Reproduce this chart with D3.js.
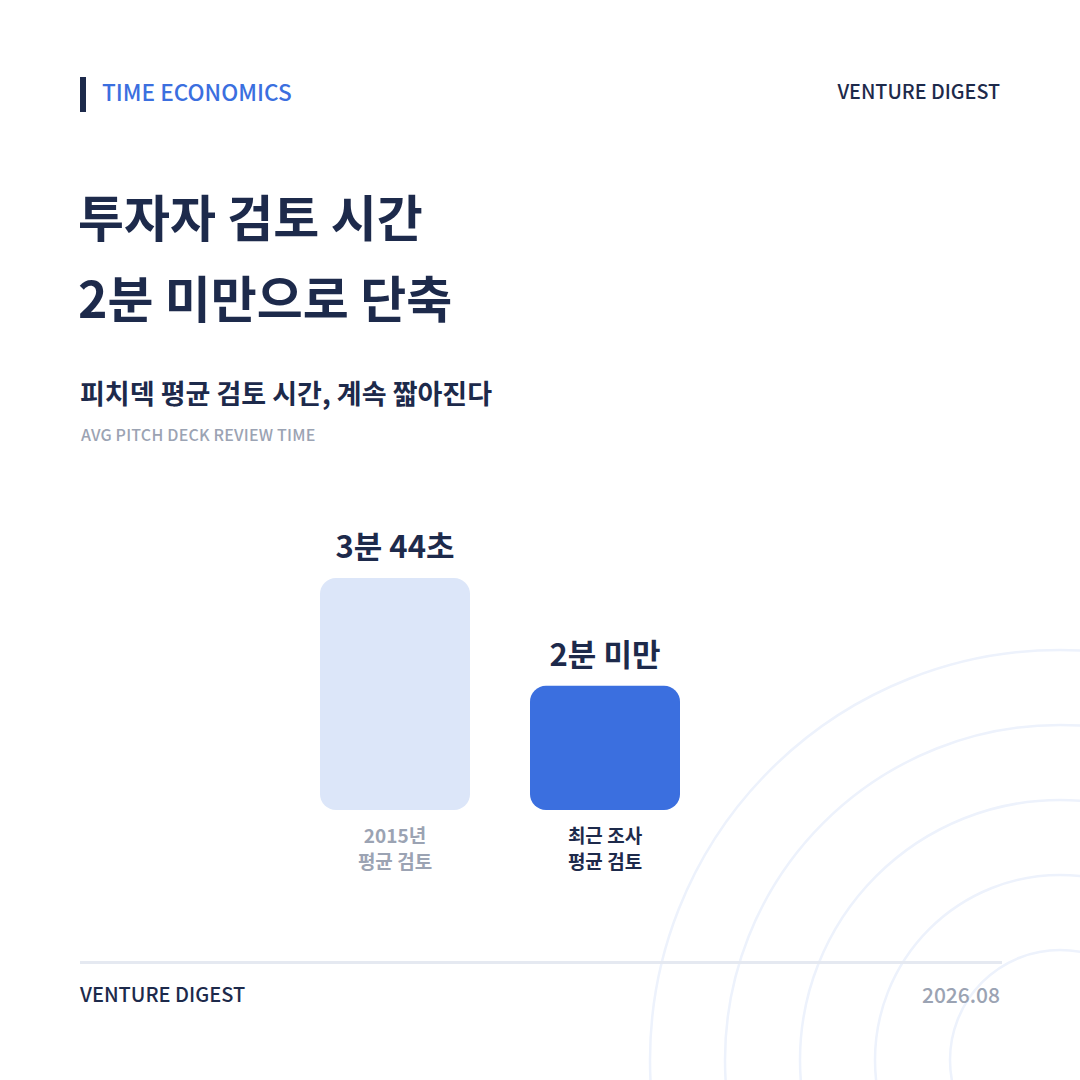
<!DOCTYPE html>
<html><head><meta charset="utf-8">
<script src="https://cdn.jsdelivr.net/npm/d3@7"></script>
<style>
html,body{margin:0;padding:0;background:#fff;}
svg{display:block;}
text{font-family:"Noto Sans CJK KR","Noto Sans",sans-serif;}
</style></head>
<body>
<script>
const categories = [["2015년","평균 검토"],["최근 조사","평균 검토"]];
const valuesSec = [224, 120];
const valueLabels = ["3분 44초", "2분 미만"];
const ringRadii = [110, 185, 260, 335, 410];

const W = 1080, H = 1080;
const navy = "#1d2a4b", blue = "#3b6fdf", gray = "#9ba3b3";
const svg = d3.select("body").append("svg").attr("width", W).attr("height", H);

// decorative rings
svg.append("g").selectAll("circle").data(ringRadii).join("circle")
  .attr("cx", 1060).attr("cy", 1060).attr("r", d => d)
  .attr("fill", "none").attr("stroke", "#edf2fc").attr("stroke-width", 2.5);

// header
svg.append("rect").attr("x", 80).attr("y", 77).attr("width", 6).attr("height", 35).attr("fill", navy);
svg.append("text").attr("x", 102).attr("y", 101).attr("font-size", 22.6).attr("font-weight", 500)
  .attr("fill", blue).text("TIME ECONOMICS");
svg.append("text").attr("x", 1000).attr("y", 99).attr("text-anchor", "end").attr("font-size", 19.7).attr("font-weight", 500)
  .attr("fill", navy).text("VENTURE DIGEST");

// title
svg.append("text").attr("x", 78).attr("y", 237).attr("font-size", 50).attr("font-weight", 700)
  .attr("fill", navy).text("투자자 검토 시간");
svg.append("text").attr("x", 78).attr("y", 318).attr("font-size", 50).attr("font-weight", 700)
  .attr("fill", navy).text("2분 미만으로 단축");

svg.append("text").attr("x", 80).attr("y", 404).attr("font-size", 27).attr("font-weight", 700)
  .attr("fill", navy).text("피치덱 평균 검토 시간, 계속 짧아진다");
svg.append("text").attr("x", 81).attr("y", 441).attr("font-size", 16).attr("font-weight", 500)
  .attr("letter-spacing", 0.2).attr("fill", gray).text("AVG PITCH DECK REVIEW TIME");

// bars
const x = d3.scaleBand().domain(d3.range(valuesSec.length)).range([320, 680]).paddingInner(2 / 7).paddingOuter(0);
const y = d3.scaleLinear().domain([0, 224]).range([810, 578]);
const fills = ["#dce6f9", blue];

const g = svg.append("g");
g.selectAll("rect.bar").data(valuesSec).join("rect").attr("class", "bar")
  .attr("x", (d, i) => x(i)).attr("width", x.bandwidth())
  .attr("y", d => y(d)).attr("height", d => y(0) - y(d))
  .attr("rx", 16).attr("fill", (d, i) => fills[i]);

g.selectAll("text.val").data(valuesSec).join("text").attr("class", "val")
  .attr("x", (d, i) => x(i) + x.bandwidth() / 2).attr("y", d => y(d) - 20)
  .attr("text-anchor", "middle").attr("font-size", 31).attr("font-weight", 700)
  .attr("fill", navy).text((d, i) => valueLabels[i]);

const labColors = [gray, navy];
categories.forEach((lines, i) => {
  const t = g.append("text").attr("text-anchor", "middle").attr("font-size", 19).attr("font-weight", 700)
    .attr("fill", labColors[i]);
  lines.forEach((l, j) => t.append("tspan").attr("x", x(i) + x.bandwidth() / 2).attr("y", 843 + j * 26).text(l));
});

// footer
svg.append("line").attr("x1", 80).attr("x2", 1002).attr("y1", 962.5).attr("y2", 962.5)
  .attr("stroke", "#e5e9f1").attr("stroke-width", 3);
svg.append("text").attr("x", 80).attr("y", 1002).attr("font-size", 20).attr("font-weight", 500)
  .attr("fill", navy).text("VENTURE DIGEST");
svg.append("text").attr("x", 1000).attr("y", 1003).attr("text-anchor", "end").attr("font-size", 21).attr("font-weight", 500)
  .attr("fill", gray).text("2026.08");
</script>
</body></html>
